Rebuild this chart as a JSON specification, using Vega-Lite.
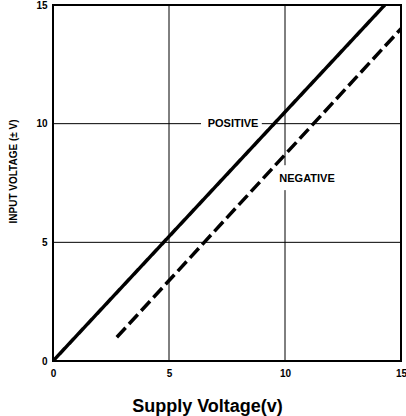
{
  "$schema": "https://vega.github.io/schema/vega-lite/v6.json",
  "autosize": "none",
  "width": 348,
  "height": 356,
  "padding": {"left": 53, "top": 5, "right": 5, "bottom": 55},
  "background": "white",
  "config": {
    "view": {"stroke": "black", "strokeWidth": 2},
    "font": "Liberation Sans"
  },
  "datasets": {
    "lines": [
      {"series": "positive", "supply": 0, "input": 0},
      {"series": "positive", "supply": 14.3, "input": 15},
      {"series": "negative", "supply": 2.75, "input": 1},
      {"series": "negative", "supply": 15, "input": 14}
    ],
    "labels": [
      {"text": "POSITIVE", "x": 7.76, "y": 10, "x1": 6.38, "x2": 9.0, "y1": 9.72, "y2": 10.28},
      {"text": "NEGATIVE", "x": 10.95, "y": 7.67, "x1": 9.6, "x2": 10.4, "y1": 7.2, "y2": 8.25}
    ]
  },
  "encoding": {
    "x": {
      "type": "quantitative",
      "scale": {"domain": [0, 15], "nice": false},
      "axis": {
        "title": "Supply Voltage(v)",
        "values": [0, 5, 10, 15],
        "grid": false,
        "domain": false,
        "ticks": false,
        "labelPadding": 7,
        "labelFontSize": 10,
        "labelFontWeight": "bold",
        "labelColor": "black",
        "labelFlush": false,
        "titleFontSize": 18,
        "titleFontWeight": "bold",
        "titleColor": "black",
        "titleX": 154,
        "titleY": 50,
        "titleBaseline": "alphabetic",
        "titleAlign": "center"
      }
    },
    "y": {
      "type": "quantitative",
      "scale": {"domain": [0, 15], "nice": false},
      "axis": {
        "title": "INPUT VOLTAGE (± V)",
        "values": [0, 5, 10, 15],
        "grid": false,
        "domain": false,
        "ticks": false,
        "labelPadding": 6,
        "labelFontSize": 10,
        "labelFontWeight": "bold",
        "labelColor": "black",
        "labelFlush": false,
        "titleFontSize": 10,
        "titleFontWeight": "bold",
        "titleColor": "black",
        "titleAngle": 270,
        "titleX": -40,
        "titleY": 166,
        "titleAlign": "center",
        "titleBaseline": "middle"
      }
    }
  },
  "layer": [
    {
      "data": {"values": [{"v": 5}, {"v": 10}]},
      "mark": {"type": "rule", "color": "black", "strokeWidth": 1},
      "encoding": {"x": {"field": "v"}, "y": {"value": 0}, "y2": {"value": 356}}
    },
    {
      "data": {"values": [{"v": 5}, {"v": 10}]},
      "mark": {"type": "rule", "color": "black", "strokeWidth": 1},
      "encoding": {"y": {"field": "v"}, "x": {"value": 0}, "x2": {"value": 348}}
    },
    {
      "data": {"name": "labels"},
      "mark": {"type": "rect", "color": "white"},
      "encoding": {
        "x": {"field": "x1"},
        "x2": {"field": "x2"},
        "y": {"field": "y1"},
        "y2": {"field": "y2"}
      }
    },
    {
      "data": {"name": "lines"},
      "mark": {"type": "line", "color": "black", "strokeWidth": 3.5, "clip": true},
      "encoding": {
        "x": {"field": "supply"},
        "y": {"field": "input"},
        "strokeDash": {
          "field": "series",
          "type": "nominal",
          "scale": {"domain": ["positive", "negative"], "range": [[1, 0], [13, 5]]},
          "legend": null
        }
      }
    },
    {
      "data": {"name": "labels"},
      "mark": {"type": "text", "fontSize": 11, "fontWeight": "bold", "color": "black", "align": "center", "baseline": "middle"},
      "encoding": {
        "x": {"field": "x"},
        "y": {"field": "y"},
        "text": {"field": "text"}
      }
    }
  ]
}
